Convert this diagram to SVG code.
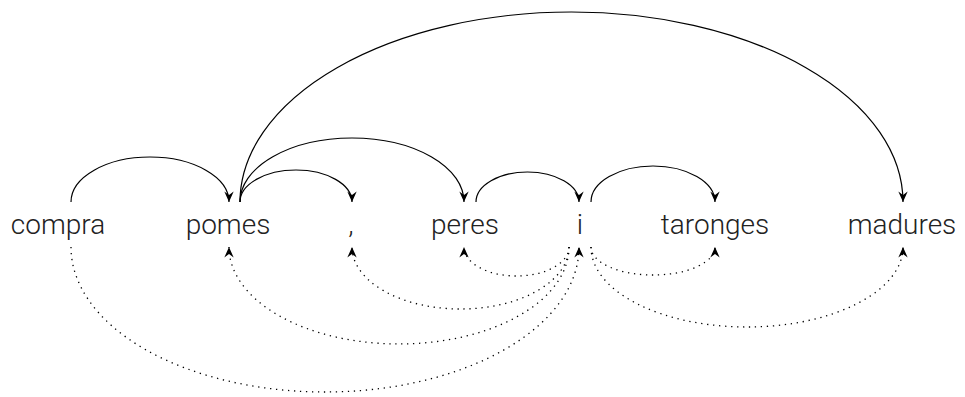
<svg xmlns="http://www.w3.org/2000/svg" width="965" height="397" viewBox="0 0 965 397">
<style>
.w{font-family:Roboto,"Liberation Sans",sans-serif;font-weight:300;font-size:28px;fill:#222;text-anchor:middle}
.a{fill:none;stroke:#000;stroke-width:1.2;marker-end:url(#ah)}
.d{fill:none;stroke:#000;stroke-width:1.3;stroke-dasharray:1.3 4.7;marker-end:url(#ah)}
</style>
<defs>
<marker id="ah" markerUnits="userSpaceOnUse" markerWidth="14" markerHeight="14" refX="0" refY="0" viewBox="-10 -6 12 12" orient="auto">
<path d="M0,0 L-9,-4 L-6,0 L-9,4 Z" fill="#000"/>
</marker>
</defs>
<rect width="965" height="397" fill="#fff"/>
<g id="connectors">
<path class="a" d="M71,202 A79,45 0 0 1 229,202"/>
<path class="a" d="M240,202 A56,32 0 0 1 352,202"/>
<path class="a" d="M240,202 A112,64 0 0 1 464,202"/>
<path class="a" d="M240,202 A331.5,190 0 0 1 903,202"/>
<path class="a" d="M476,202 A51.5,30 0 0 1 579,202"/>
<path class="a" d="M591,202 A62,36 0 0 1 715,202"/>
<path class="d" d="M569,247 A52.5,29 0 0 1 464,247"/>
<path class="d" d="M569,247 A108.5,62 0 0 1 352,247"/>
<path class="d" d="M569,247 A170,97 0 0 1 229,247"/>
<path class="d" d="M71,247 A254,145 0 0 0 579,247"/>
<path class="d" d="M591,247 A62,28 0 0 0 715,247"/>
<path class="d" d="M591,247 A156,80 0 0 0 903,247"/>
</g>
<g id="n-compra"><text class="w" x="58" y="234">compra</text></g>
<g id="n-pomes"><text class="w" x="228" y="234">pomes</text></g>
<g id="n-comma"><text class="w" x="351" y="234">,</text></g>
<g id="n-peres"><text class="w" x="465" y="234">peres</text></g>
<g id="n-i"><text class="w" x="580" y="234">i</text></g>
<g id="n-taronges"><text class="w" x="715" y="234">taronges</text></g>
<g id="n-madures"><text class="w" x="902" y="234">madures</text></g>
</svg>
